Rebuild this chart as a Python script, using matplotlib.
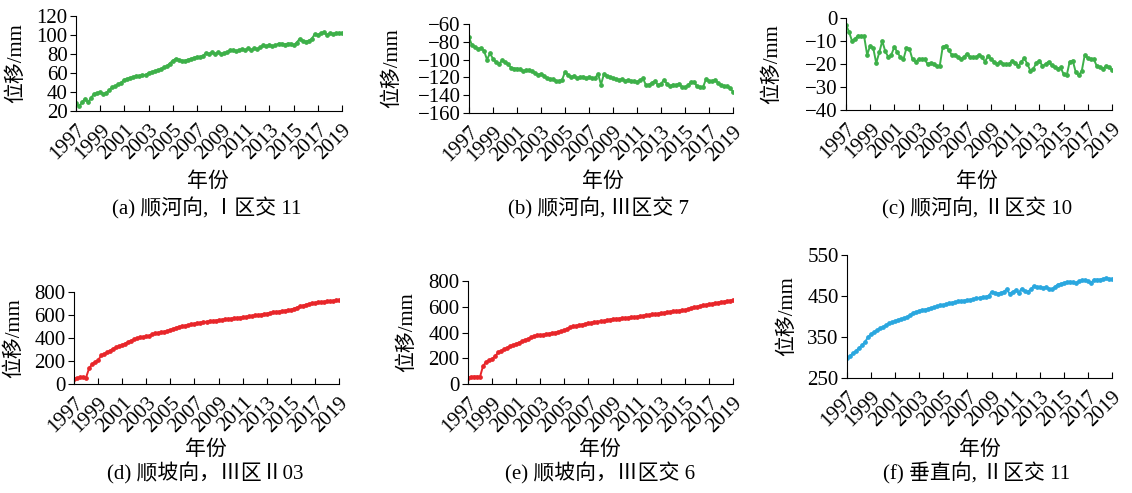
import matplotlib
matplotlib.use('Agg')
import matplotlib.pyplot as plt
import numpy as np

# quarterly readings 1997.00 .. 2019.00
years = np.arange(1997, 2019.01, 0.25)

a_vals = [28, 25, 29, 33, 29, 34, 38, 39, 40, 38, 39, 42, 45, 46, 48, 50,
          53, 54, 55, 56, 57, 57, 58, 58, 60, 61, 62, 63, 64, 66, 67, 70,
          73, 75, 74, 73, 73, 74, 75, 76, 77, 77, 78, 81, 80, 82, 80, 82,
          80, 81, 82, 84, 84, 83, 84, 85, 84, 86, 84, 86, 85, 87, 89, 88,
          90, 88, 89, 91, 91, 90, 91, 91, 89, 92, 96, 94, 93, 94, 96, 101,
          100, 102, 103, 100, 102, 101, 102, 102, 102]

b_vals = [-75, -84, -86, -88, -87, -90, -100, -93, -99, -103, -105, -101,
          -103, -105, -109, -110, -110, -111, -113, -112, -112, -113, -115, -117,
          -116, -118, -121, -122, -122, -124, -124, -123, -114, -117, -120, -118,
          -121, -120, -119, -121, -120, -121, -121, -116, -128, -116, -118, -120,
          -121, -122, -123, -122, -124, -123, -124, -124, -125, -123, -121, -129,
          -128, -126, -124, -129, -127, -123, -127, -130, -128, -129, -127, -131,
          -131, -129, -125, -125, -130, -131, -131, -122, -124, -124, -123, -126,
          -129, -130, -130, -132, -136]

c_vals = [-3, -6, -10, -9, -7.7, -8, -8, -16, -12, -13, -19.6, -15,
          -10, -14.5, -17, -16, -12.5, -15, -17, -18, -13, -13.5, -18, -19,
          -18, -18, -18, -20, -19.5, -20, -21, -21, -12.5, -12, -14, -16,
          -16, -17, -18, -17, -15.5, -17, -17, -17, -16, -17, -19, -16.5,
          -18, -19, -20, -19, -20, -20, -20, -18.5, -19.5, -21, -19, -17.5,
          -20, -23, -22, -19.5, -18.5, -21, -20, -19, -20.5, -21.5, -22, -21.5,
          -24.5, -25, -19, -18.5, -23.5, -25, -23, -16, -17.5, -18, -18, -21,
          -21.5, -22, -21, -21.5, -22.5]

d_vals = [45, 52, 58, 60, 56, 135, 172, 192, 205, 248, 262, 275,
          290, 308, 318, 330, 340, 352, 365, 378, 388, 400, 405, 410,
          414, 420, 432, 440, 445, 450, 455, 462, 470, 480, 490, 498,
          502, 508, 512, 518, 525, 530, 534, 538, 542, 545, 548, 552,
          555, 558, 562, 566, 568, 571, 574, 578, 580, 584, 588, 592,
          596, 600, 604, 608, 612, 617, 622, 626, 630, 634, 638, 642,
          646, 655, 665, 675, 682, 690, 696, 702, 706, 710, 713, 716,
          718, 721, 724, 727, 730]

e_vals = [50, 55, 58, 58, 57, 140, 170, 185, 195, 215, 245, 258,
          270, 282, 295, 302, 312, 322, 332, 342, 352, 362, 372, 378,
          380, 383, 388, 392, 396, 400, 404, 410, 418, 430, 440, 448,
          452, 458, 462, 467, 472, 476, 480, 484, 487, 490, 495, 500,
          504, 506, 508, 510, 513, 515, 518, 520, 523, 527, 530, 534,
          537, 540, 543, 546, 549, 553, 557, 561, 564, 567, 570, 572,
          575, 582, 590, 596, 600, 605, 610, 615, 620, 624, 628, 632,
          636, 640, 644, 648, 650]

f_vals = [300, 304, 310, 316, 323, 330, 338, 350, 357, 362, 367, 371,
          375, 379, 383, 386, 389, 392, 394, 396, 399, 404, 409, 411,
          414, 416, 417, 419, 421, 423, 425, 427, 428, 430, 432, 434,
          435, 437, 438, 439, 440, 441, 442, 444, 446, 447, 448, 450,
          460, 458, 456, 458, 460, 466, 456, 460, 464, 458, 468, 462,
          460, 466, 474, 472, 471, 470, 471, 468, 466, 472, 478, 480,
          482, 484, 485, 483, 482, 486, 489, 488, 487, 481, 490, 490,
          490, 492, 493, 492, 491]

captions = ['(a) 顺河向, Ⅰ区交 11', '(b) 顺河向, Ⅲ区交 7', '(c) 顺河向, Ⅱ区交 10',
            '(d) 顺坡向，Ⅲ区Ⅱ03', '(e) 顺坡向，Ⅲ区交 6', '(f) 垂直向, Ⅱ区交 11']

yticks = [np.arange(20, 121, 20), np.arange(-160, -59, 20), np.arange(-40, 1, 10),
          np.arange(0, 801, 200), np.arange(0, 801, 200), [250, 350, 450, 550]]

green = '#3db049'
red = '#e8262a'
blue = '#2aa7df'
colors = [green, green, green, red, red, blue]
series = [a_vals, b_vals, c_vals, d_vals, e_vals, f_vals]

# pixel boxes: left, top, right, bottom
boxes = [(76, 16, 342, 111), (469, 24, 733, 113), (846, 18, 1112, 110),
         (74, 292, 339, 384), (468, 281, 733, 384), (847, 255, 1112, 378)]
ylab_x = [16, 392, 772, 14, 407, 787]
xlab_pos = [(208, 182), (603, 182), (977, 182), (206, 450), (600, 450), (980, 450)]
cap_pos = [(207, 208), (599, 208), (977, 208), (205, 473), (600, 473), (977, 473)]

W, H = 1132, 493
fam = ['Liberation Serif', 'Noto Sans CJK SC']
plt.rcParams['font.family'] = fam
plt.rcParams['font.size'] = 15

fig = plt.figure(figsize=(W / 100, H / 100), dpi=100)

for i in range(6):
    l, t, r, b = boxes[i]
    ax = fig.add_axes([l / W, 1 - b / H, (r - l) / W, (b - t) / H])
    ax.plot(years, series[i], color=colors[i], lw=1.4, marker='o', ms=2.4)
    ax.set_xlim(1997, 2019)
    yt = yticks[i]
    ax.set_ylim(yt[0], yt[-1])
    ax.set_yticks(yt)
    ax.set_xticks(np.arange(1997, 2020, 2))
    ax.set_xticklabels([str(y) for y in range(1997, 2020, 2)], rotation=45,
                       ha='right', va='top', rotation_mode='anchor')
    ax.spines['top'].set_visible(False)
    ax.spines['right'].set_visible(False)
    ax.tick_params(axis='x', direction='in', length=4, pad=7, labelsize=15)
    ax.tick_params(axis='y', direction='out', length=4, pad=2, labelsize=15)
    ax.margins(0)

    fig.text(ylab_x[i] / W, 1 - ((t + b) / 2) / H, '位移/mm', rotation=90,
             ha='center', va='center', fontsize=15)
    fig.text(xlab_pos[i][0] / W, 1 - xlab_pos[i][1] / H, '年份',
             ha='center', va='center', fontsize=15)
    fig.text(cap_pos[i][0] / W, 1 - cap_pos[i][1] / H, captions[i],
             ha='center', va='center', fontsize=15)

fig.savefig('out.png', dpi=100)
